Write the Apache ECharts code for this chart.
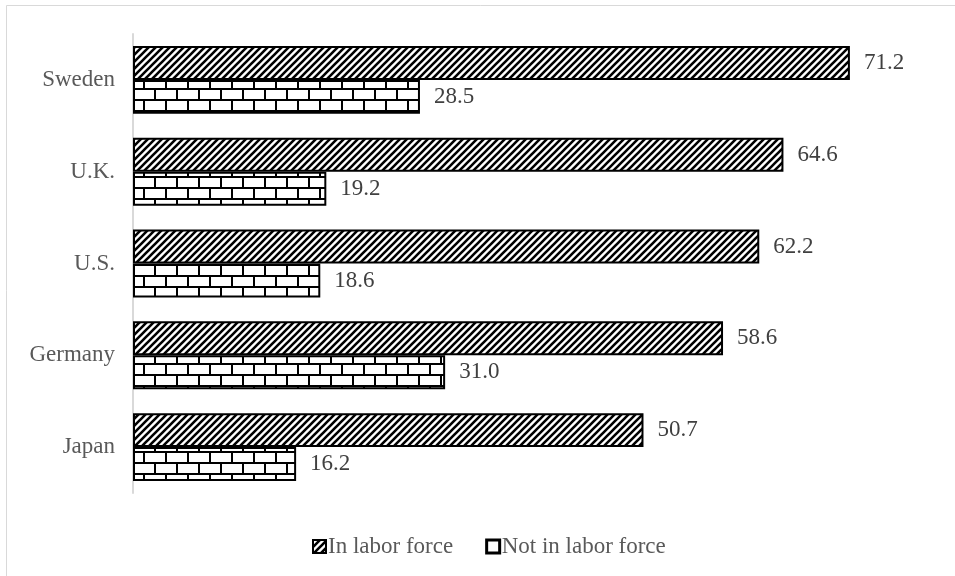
<!DOCTYPE html>
<html><head><meta charset="utf-8">
<script src="https://cdn.jsdelivr.net/npm/echarts@6/dist/echarts.min.js"></script>
<style>html,body{margin:0;padding:0;background:#fff}#c{width:955px;height:576px}</style>
</head><body><div id="c"></div>
<script>
const categories = ['Japan', 'Germany', 'U.S.', 'U.K.', 'Sweden'];
const inLaborForce = [50.7, 58.6, 62.2, 64.6, 71.2];
const notInLaborForce = [16.2, 31.0, 18.6, 19.2, 28.5];
const seriesNames = ['In labor force', 'Not in labor force'];

function stripeTile() {
  const s = 7, c = document.createElement('canvas');
  c.width = s; c.height = s;
  const g = c.getContext('2d');
  g.fillStyle = '#fff'; g.fillRect(0, 0, s, s);
  g.strokeStyle = '#000'; g.lineWidth = 2.6;
  g.beginPath();
  g.moveTo(-2, s + 2); g.lineTo(s + 2, -2);
  g.moveTo(-2, 2); g.lineTo(2, -2);
  g.moveTo(s - 2, s + 2); g.lineTo(s + 2, s - 2);
  g.stroke();
  return c;
}
function brickTile() {
  const w = 22, h = 22, c = document.createElement('canvas');
  c.width = w; c.height = h;
  const g = c.getContext('2d');
  g.fillStyle = '#fff'; g.fillRect(0, 0, w, h);
  g.fillStyle = '#000';
  g.fillRect(0, 0, w, 2);
  g.fillRect(0, 11, w, 2);
  g.fillRect(0, 0, 2, 11);
  g.fillRect(11, 11, 2, 11);
  return c;
}
const stripe = { image: stripeTile(), repeat: 'repeat' };
const brick = { image: brickTile(), repeat: 'repeat' };

const chart = echarts.init(document.getElementById('c'));
const font = '"Liberation Serif", "Times New Roman", serif';
const labelCfg = { show: true, position: 'right', distance: 14, formatter: p => p.value.toFixed(1), fontFamily: font, fontSize: 23, color: '#404040' };
chart.setOption({
  animation: false,
  backgroundColor: '#fff',
  textStyle: { fontFamily: font },
  graphic: [
    { type: 'line', shape: { x1: 6.5, y1: 5.5, x2: 955, y2: 5.5 }, style: { stroke: '#d9d9d9', lineWidth: 1 } },
    { type: 'line', shape: { x1: 6.5, y1: 5.5, x2: 6.5, y2: 576 }, style: { stroke: '#d9d9d9', lineWidth: 1 } }
  ],
  legend: {
    top: 530, left: 307, itemWidth: 13, itemHeight: 13, itemGap: 32, icon: 'rect',
    textStyle: { fontFamily: font, fontSize: 23, color: '#595959', padding: [0, 0, 0, -3] },
    data: [
      { name: seriesNames[0], itemStyle: { color: stripe, borderColor: '#000', borderWidth: 2 } },
      { name: seriesNames[1], itemStyle: { color: '#fff', borderColor: '#000', borderWidth: 3 } }
    ]
  },
  grid: { left: 133, right: 16.5, top: 34, bottom: 83, containLabel: false },
  xAxis: { type: 'value', min: 0, max: 80, show: false, splitLine: { show: false } },
  yAxis: {
    type: 'category', data: categories,
    axisLine: { show: true, lineStyle: { color: '#d9d9d9', width: 2 } },
    axisTick: { show: false },
    axisLabel: { fontFamily: font, fontSize: 23, color: '#595959', margin: 18 }
  },
  series: [
    {
      name: seriesNames[0], type: 'bar', data: inLaborForce,
      barGap: '0%', barCategoryGap: '26%',
      itemStyle: { color: stripe, borderColor: '#000', borderWidth: 2 },
      label: labelCfg
    },
    {
      name: seriesNames[1], type: 'bar', data: notInLaborForce,
      barGap: '0%', barCategoryGap: '26%',
      itemStyle: { color: brick, borderColor: '#000', borderWidth: 2 },
      label: labelCfg
    }
  ]
});
</script></body></html>
